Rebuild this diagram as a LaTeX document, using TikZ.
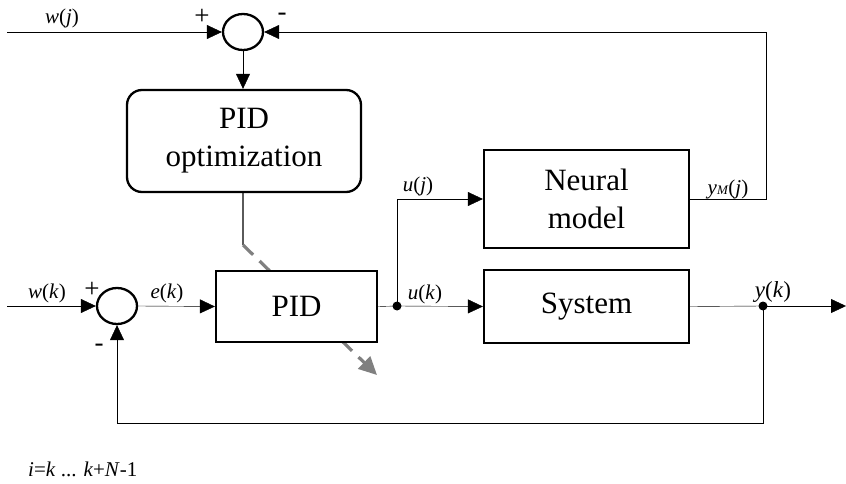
\documentclass[tikz,border=0pt]{standalone}
\usepackage{fontspec}
\setmainfont{Liberation Serif}
\usetikzlibrary{arrows.meta,shapes.geometric}
\pgfdeclarelayer{bg}
\pgfsetlayers{bg,main}
\definecolor{dgray}{RGB}{90,90,90}
\definecolor{mgray}{RGB}{128,128,128}
\begin{document}
\begin{tikzpicture}[x=1pt,y=-1pt,
 line width=2.3pt,
 blk/.style={draw, rectangle, fill=white, inner sep=0pt, font=\fontsize{31}{38}\selectfont, align=center},
 sumj/.style={draw, ellipse, fill=white, minimum width=40pt, minimum height=36pt, inner sep=0pt},
 lbl/.style={font=\fontsize{21}{24}\selectfont, inner sep=0pt},
 sgn/.style={font=\fontsize{27}{28}\selectfont, inner sep=0pt},
 msgn/.style={font=\fontsize{27}{28}\selectfont, inner sep=0pt, text height=8pt, text depth=0pt},
 arr/.style={-{Triangle[length=15pt,width=14pt]}},
 jdot/.style={circle, fill, inner sep=0pt, minimum size=9pt}]
\path[use as bounding box] (0,0) rectangle (846,484);

% blocks
\node[sumj] (s1) at (243,32) {};
\node[blk, rounded corners=15pt, minimum width=234pt, minimum height=102pt] (opt) at (244,141) {PID\\optimization};
\node[blk, minimum width=161pt, minimum height=71pt] (pid) at (296.5,306.5) {PID};
\node[blk, minimum width=205pt, minimum height=98pt] (nm) at (586.5,199) {Neural\\model};
\node[blk, minimum width=205pt, minimum height=73pt] (sys) at (586.5,306.5) {System};
\node[sumj] (s2) at (117,306) {};
\node[jdot] (d1) at (397,306) {};
\node[jdot] (d2) at (763,306) {};

% free ends and corners
\coordinate (wj) at (7,32);
\coordinate (wk) at (7,306);
\coordinate (out) at (846,306);
\coordinate (c1) at (766,199);
\coordinate (c2) at (763,423);
\coordinate (g1) at (243,245);
\coordinate (g2) at (377,375);

% dashed optimisation arrow (behind the PID block)
\begin{pgfonlayer}{bg}
\draw[dgray, line width=2.3pt] (opt.south -| g1) -- (g1);
\draw[mgray, line width=3.2pt, dash pattern=on 14pt off 9pt, -{Triangle[length=18pt,width=17pt]}] (g1) -- (g2);
\end{pgfonlayer}

% connectors
\draw[arr] (wj) -- (s1.west);
\draw[arr] (s1.south) -- (s1.south |- opt.north);
\draw[arr] (nm.east) -- (c1) |- (s1.east);
\draw[arr] (wk) -- (s2.west);
\draw[arr] (s2.east) -- (pid.west);
\draw (pid.east) -- (d1.center);
\draw[arr] (d1.center) -- (sys.west);
\draw[arr] (d1.center) |- (nm.west);
\draw (sys.east) -- (d2.center);
\draw[arr] (d2.center) -- (out);
\draw[arr] (d2.center) -- (c2) -| (s2.south);

% labels
\node[lbl] (lwj) at (62,18) {\textit{w}(\textit{j})};
\node[sgn] (p1) at (202,17) {+};
\node[msgn] (m1) at (282,17) {-};
\node[lbl] (lwk) at (47,293) {\textit{w}(\textit{k})};
\node[sgn] (p2) at (92,290) {+};
\node[msgn] (m2) at (99,347) {-};
\node[lbl] (lek) at (167,293) {\textit{e}(\textit{k})};
\node[lbl] (luj) at (418,186) {\textit{u}(\textit{j})};
\node[lbl] (luk) at (425,294) {\textit{u}(\textit{k})};
\node[lbl] (lym) at (728,189) {\textit{y}{\fontsize{13}{13}\selectfont\textit{M}}(\textit{j})};
\node[lbl, font=\fontsize{23}{25}\selectfont] (lyk) at (773,292) {\textit{y}(\textit{k})};
\node[lbl, anchor=west] (lik) at (28,469) {\textit{i}=\textit{k} ... \textit{k}+\textit{N}-1};
\end{tikzpicture}
\end{document}
